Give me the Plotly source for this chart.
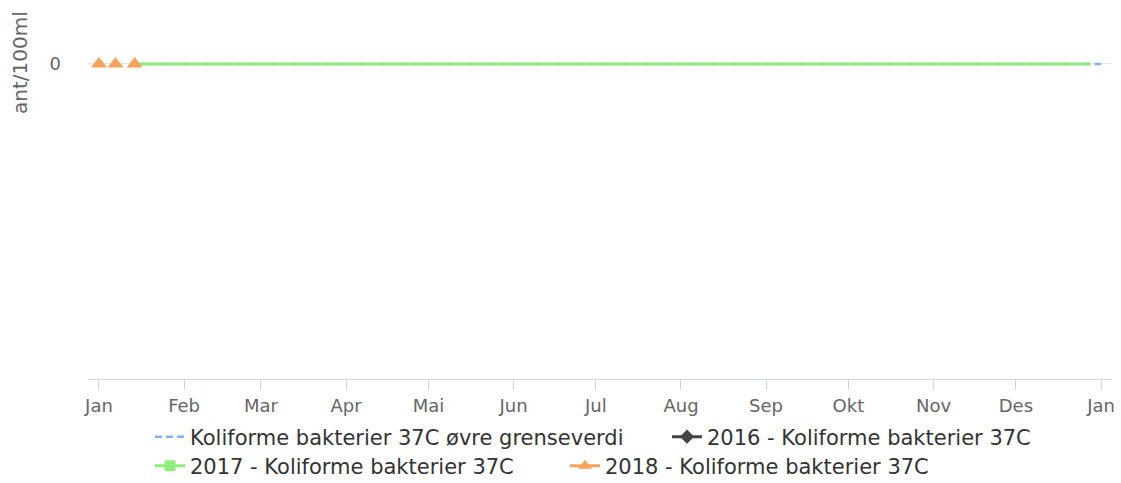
import plotly.graph_objects as go

# ---- data ----
month_ticks = ["2018-01-01", "2018-02-01", "2018-03-01", "2018-04-01", "2018-05-01", "2018-06-01",
               "2018-07-01", "2018-08-01", "2018-09-01", "2018-10-01", "2018-11-01", "2018-12-01",
               "2019-01-01"]
month_labels = ["Jan", "Feb", "Mar", "Apr", "Mai", "Jun", "Jul", "Aug", "Sep", "Okt", "Nov", "Des", "Jan"]

limit_dates = ["2018-01-15", "2019-01-01"]
limit_vals = [0, 0]

y2016_dates = []
y2016_vals = []

y2017_dates = ["2018-01-15", "2018-02-06", "2018-03-06", "2018-04-10", "2018-05-08", "2018-06-05",
               "2018-07-03", "2018-08-07", "2018-09-04", "2018-10-02", "2018-11-06", "2018-12-04",
               "2018-12-28"]
y2017_vals = [0, 0, 0, 0, 0, 0, 0, 0, 0, 0, 0, 0, 0]

y2018_dates = ["2018-01-01", "2018-01-07", "2018-01-14"]
y2018_vals = [0, 0, 0]

names = ["Koliforme bakterier 37C øvre grenseverdi",
         "2016 - Koliforme bakterier 37C",
         "2017 - Koliforme bakterier 37C",
         "2018 - Koliforme bakterier 37C"]

FONT = "DejaVu Sans"
C_LIMIT = "#7cb5ec"
C_2016 = "#434348"
C_2017 = "#90ed7d"
C_2018 = "#f7a35c"

fig = go.Figure()

# plotted traces
fig.add_trace(go.Scatter(x=limit_dates, y=limit_vals, mode="lines", name=names[0],
                         line=dict(color=C_LIMIT, width=2.5, dash="7px,4px"),
                         legend="legend", showlegend=True))
fig.add_trace(go.Scatter(x=y2016_dates, y=y2016_vals, mode="lines+markers", name=names[1],
                         line=dict(color=C_2016, width=3),
                         marker=dict(symbol="diamond", size=11, color=C_2016),
                         legend="legend2", showlegend=False))
fig.add_trace(go.Scatter(x=y2017_dates, y=y2017_vals, mode="lines", name=names[2],
                         line=dict(color=C_2017, width=3),
                         legend="legend3", showlegend=False))
fig.add_trace(go.Scatter(x=y2018_dates, y=y2018_vals, mode="markers", name=names[3],
                         marker=dict(symbol="triangle-up", size=14, color=C_2018),
                         legend="legend4", showlegend=False))

# legend-only entries (style samples)
fig.add_trace(go.Scatter(x=[None], y=[None], mode="lines+markers", name=names[1],
                         line=dict(color=C_2016, width=3),
                         marker=dict(symbol="diamond", size=11, color=C_2016),
                         legend="legend2", showlegend=True))
fig.add_trace(go.Scatter(x=[None], y=[None], mode="lines+markers", name=names[2],
                         line=dict(color=C_2017, width=3),
                         marker=dict(symbol="square", size=11, color=C_2017),
                         legend="legend3", showlegend=True))
fig.add_trace(go.Scatter(x=[None], y=[None], mode="lines+markers", name=names[3],
                         line=dict(color=C_2018, width=3),
                         marker=dict(symbol="triangle-up", size=12, color=C_2018),
                         legend="legend4", showlegend=True))

L, R, T, B = 88, 9, 10, 104
W, H = 1121, 483
pw, ph = W - L - R, H - T - B


def px(xp):
    return (xp - L) / pw


def py(yp):
    return (H - B - yp) / ph


leg_common = dict(orientation="h", bgcolor="rgba(0,0,0,0)", borderwidth=0,
                  font=dict(family=FONT, size=21, color="#333333"),
                  xanchor="left", yanchor="middle")

fig.update_layout(
    width=W, height=H,
    margin=dict(l=L, r=R, t=T, b=B, pad=0, autoexpand=False),
    paper_bgcolor="white", plot_bgcolor="white",
    font=dict(family=FONT, color="#666666"),
    legend=dict(x=px(150), y=py(437), **leg_common),
    legend2=dict(x=px(667), y=py(437), **leg_common),
    legend3=dict(x=px(150), y=py(466), **leg_common),
    legend4=dict(x=px(565), y=py(466), **leg_common),
    xaxis=dict(type="date", range=["2017-12-28", "2019-01-05"],
               tickvals=month_ticks, ticktext=month_labels,
               showgrid=False, zeroline=False, automargin=False,
               showline=True, linecolor="#ccd6eb", linewidth=1,
               ticks="outside", ticklen=10, tickcolor="#ccd6eb", tickwidth=1,
               tickfont=dict(family=FONT, size=18, color="#666666")),
    yaxis=dict(range=[-1, 0.1714], tickvals=[0], ticktext=["0"],
               showgrid=True, gridcolor="#e6e6e6", gridwidth=1,
               zeroline=False, showline=False, ticks="", automargin=False,
               ticklabelstandoff=26,
               tickfont=dict(family=FONT, size=18, color="#666666")),
    annotations=[dict(text="ant/100ml", textangle=-90, xref="paper", yref="paper",
                      x=px(20), y=py(63), xanchor="center", yanchor="middle",
                      showarrow=False, font=dict(family=FONT, size=20, color="#666666"))],
)

fig.write_html("out.html", config={"displayModeBar": False},
               post_script="document.body.style.margin='0';")
